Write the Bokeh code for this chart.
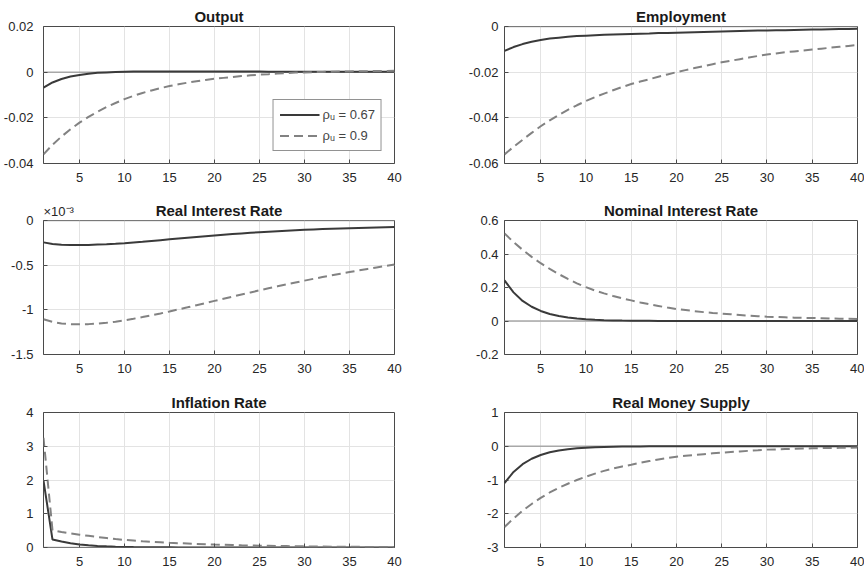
from bokeh.plotting import figure
from bokeh.models import FixedTicker, CustomJSTickFormatter, Span, Range1d, Title
from bokeh.layouts import gridplot
from bokeh.embed import file_html
from bokeh.resources import INLINE

periods = list(range(1, 41))
x_ticks = [5, 10, 15, 20, 25, 30, 35, 40]
legend_labels = ["\u03c1\u1d64 = 0.67", "\u03c1\u1d64 = 0.9"]

output_067 = [-0.0068, -0.0045, -0.0030, -0.0019, -0.0012, -0.0007, -0.0003, -0.0001, 0.0001, 0.0002,
              0.0003, 0.0003, 0.0003, 0.0003, 0.0003, 0.0003, 0.0003, 0.0003, 0.0003, 0.0003,
              0.0003, 0.0003, 0.0003, 0.0003, 0.0003, 0.0002, 0.0002, 0.0002, 0.0002, 0.0002,
              0.0002, 0.0002, 0.0002, 0.0002, 0.0002, 0.0002, 0.0002, 0.0002, 0.0002, 0.0002]
output_09 = [-0.0360, -0.0318, -0.0282, -0.0250, -0.0221, -0.0196, -0.0173, -0.0153, -0.0135, -0.0118,
             -0.0104, -0.0091, -0.0080, -0.0070, -0.0061, -0.0053, -0.0046, -0.0040, -0.0034, -0.0029,
             -0.0025, -0.0021, -0.0017, -0.0014, -0.0011, -0.0009, -0.0006, -0.0004, -0.0002, -0.0001,
             0.0000, 0.0001, 0.0002, 0.0003, 0.0003, 0.0004, 0.0004, 0.0005, 0.0005, 0.0006]

employment_067 = [-0.0107, -0.0090, -0.0077, -0.0067, -0.0059, -0.0053, -0.0049, -0.0045, -0.0042, -0.0040,
                  -0.0038, -0.0036, -0.0035, -0.0034, -0.0033, -0.0032, -0.0031, -0.0029, -0.0028, -0.0027,
                  -0.0026, -0.0025, -0.0024, -0.0023, -0.0022, -0.0021, -0.0020, -0.0019, -0.0018, -0.0017,
                  -0.0016, -0.0016, -0.0015, -0.0014, -0.0013, -0.0013, -0.0012, -0.0011, -0.0011, -0.0010]
employment_09 = [-0.0560, -0.0527, -0.0496, -0.0466, -0.0437, -0.0411, -0.0387, -0.0365, -0.0345, -0.0326,
                 -0.0309, -0.0294, -0.0279, -0.0265, -0.0252, -0.0241, -0.0231, -0.0220, -0.0210, -0.0200,
                 -0.0191, -0.0182, -0.0174, -0.0165, -0.0157, -0.0150, -0.0143, -0.0136, -0.0129, -0.0123,
                 -0.0118, -0.0113, -0.0109, -0.0105, -0.0101, -0.0097, -0.0093, -0.0089, -0.0085, -0.0081]

real_rate_067 = [-2.45e-4, -2.62e-4, -2.71e-4, -2.75e-4, -2.75e-4, -2.73e-4, -2.69e-4, -2.65e-4, -2.60e-4, -2.54e-4,
                 -2.46e-4, -2.38e-4, -2.29e-4, -2.20e-4, -2.11e-4, -2.02e-4, -1.93e-4, -1.84e-4, -1.76e-4, -1.68e-4,
                 -1.60e-4, -1.52e-4, -1.45e-4, -1.38e-4, -1.31e-4, -1.25e-4, -1.19e-4, -1.14e-4, -1.09e-4, -1.04e-4,
                 -1.00e-4, -0.96e-4, -0.92e-4, -0.89e-4, -0.86e-4, -0.83e-4, -0.80e-4, -0.78e-4, -0.76e-4, -0.74e-4]
real_rate_09 = [-1.105e-3, -1.135e-3, -1.152e-3, -1.160e-3, -1.162e-3, -1.160e-3, -1.154e-3, -1.145e-3, -1.133e-3, -1.118e-3,
                -1.100e-3, -1.081e-3, -1.061e-3, -1.040e-3, -1.018e-3, -0.995e-3, -0.972e-3, -0.948e-3, -0.924e-3, -0.900e-3,
                -0.876e-3, -0.852e-3, -0.828e-3, -0.805e-3, -0.782e-3, -0.759e-3, -0.737e-3, -0.715e-3, -0.694e-3, -0.673e-3,
                -0.653e-3, -0.633e-3, -0.614e-3, -0.595e-3, -0.577e-3, -0.559e-3, -0.542e-3, -0.525e-3, -0.509e-3, -0.493e-3]

nominal_067 = [0.242, 0.171, 0.120, 0.085, 0.060, 0.042, 0.030, 0.021, 0.015, 0.010,
               0.007, 0.005, 0.0035, 0.0025, 0.0018, 0.0012, 0.0009, 0.0006, 0.0004, 0.0003,
               0.0002, 0.0002, 0.0001, 0.0001, 0.0001, 0.0, 0.0, 0.0, 0.0, 0.0,
               0.0, 0.0, 0.0, 0.0, 0.0, 0.0, 0.0, 0.0, 0.0, 0.0]
nominal_09 = [0.523, 0.471, 0.425, 0.383, 0.345, 0.311, 0.280, 0.251, 0.225, 0.202,
              0.182, 0.165, 0.149, 0.135, 0.123, 0.111, 0.100, 0.090, 0.080, 0.071,
              0.065, 0.059, 0.053, 0.048, 0.044, 0.040, 0.036, 0.032, 0.029, 0.026,
              0.024, 0.022, 0.020, 0.019, 0.018, 0.017, 0.015, 0.014, 0.013, 0.012]

inflation_067 = [1.98, 0.235, 0.175, 0.125, 0.090, 0.065, 0.047, 0.034, 0.025, 0.018,
                 0.013, 0.009, 0.007, 0.005, 0.004, 0.003, 0.002, 0.0015, 0.001, 0.001,
                 0.0008, 0.0006, 0.0005, 0.0004, 0.0003, 0.0002, 0.0002, 0.0001, 0.0001, 0.0001,
                 0.0, 0.0, 0.0, 0.0, 0.0, 0.0, 0.0, 0.0, 0.0, 0.0]
inflation_09 = [3.25, 0.51, 0.46, 0.42, 0.38, 0.345, 0.31, 0.28, 0.25, 0.225,
                0.205, 0.185, 0.17, 0.155, 0.14, 0.128, 0.117, 0.106, 0.097, 0.088,
                0.080, 0.073, 0.066, 0.060, 0.055, 0.050, 0.045, 0.041, 0.037, 0.034,
                0.031, 0.028, 0.025, 0.023, 0.021, 0.019, 0.017, 0.015, 0.014, 0.012]

money_067 = [-1.09, -0.76, -0.53, -0.37, -0.26, -0.18, -0.125, -0.087, -0.060, -0.042,
             -0.029, -0.020, -0.014, -0.010, -0.007, -0.005, -0.0035, -0.0025, -0.0017, -0.0012,
             -0.0008, -0.0006, -0.0004, -0.0003, -0.0002, -0.0001, 0.0, 0.0, 0.0, 0.0,
             0.0, 0.0, 0.0, 0.0, 0.0, 0.0, 0.0, 0.0, 0.0, 0.0]
money_09 = [-2.39, -2.14, -1.91, -1.71, -1.53, -1.37, -1.23, -1.11, -1.00, -0.90,
            -0.81, -0.73, -0.66, -0.60, -0.55, -0.49, -0.44, -0.39, -0.35, -0.31,
            -0.285, -0.26, -0.235, -0.21, -0.19, -0.17, -0.152, -0.135, -0.118, -0.10,
            -0.093, -0.085, -0.077, -0.068, -0.06, -0.056, -0.052, -0.048, -0.044, -0.04]

titles = ["Output", "Employment", "Real Interest Rate", "Nominal Interest Rate", "Inflation Rate", "Real Money Supply"]
y_ticks = [[-0.04, -0.02, 0, 0.02], [-0.06, -0.04, -0.02, 0], [-1.5e-3, -1e-3, -0.5e-3, 0],
           [-0.2, 0, 0.2, 0.4, 0.6], [0, 1, 2, 3, 4], [-3, -2, -1, 0, 1]]
series_067 = [output_067, employment_067, real_rate_067, nominal_067, inflation_067, money_067]
series_09 = [output_09, employment_09, real_rate_09, nominal_09, inflation_09, money_09]
label_scale = [1, 1, 1000, 1, 1, 1]
scale_note_text = "\u00d710\u207b\u00b3"

FONT = "Liberation Sans"
FRAME = "#4a4a4a"

# (width, border_left, border_right, y label standoff) per column
col_geo = [(460, 41, 66, 10), (404, 44, 7, 6)]
# (height, border_top, border_bottom) per row
row_geo = [(190, 26, 27), (190, 30, 26), (189, 32, 22)]

figs = []
for i in range(6):
    r, c = divmod(i, 2)
    w, bl, br, ystand = col_geo[c]
    h, bt, bb = row_geo[r]
    yt = y_ticks[i]
    p = figure(width=w, height=h, output_backend="svg", toolbar_location=None,
               x_range=Range1d(1, 40), y_range=Range1d(yt[0], yt[-1]),
               min_border_left=bl, min_border_right=br, min_border_top=bt, min_border_bottom=bb)
    p.title.text = titles[i]
    p.title.align = "center"
    p.title.text_font = FONT
    p.title.text_font_size = "15px"
    p.title.text_font_style = "bold"
    p.title.text_color = "#1a1a1a"
    p.title.standoff = 4
    p.outline_line_color = FRAME
    p.outline_line_width = 1
    p.background_fill_color = "white"
    p.border_fill_color = "white"

    xa = p.below[0]
    ya = p.left[0]
    xa.ticker = FixedTicker(ticks=x_ticks)
    ya.ticker = FixedTicker(ticks=yt)
    ya.formatter = CustomJSTickFormatter(
        args=dict(s=label_scale[i]),
        code="const v = Math.round(tick * s * 1e6) / 1e6; return String(v);")
    for ax in (xa, ya):
        ax.axis_line_color = None
        ax.major_tick_in = 4
        ax.major_tick_out = 0
        ax.major_tick_line_color = FRAME
        ax.minor_tick_line_color = None
        ax.major_label_text_font = FONT
        ax.major_label_text_font_size = "13px"
        ax.major_label_text_color = "#262626"
    xa.major_label_standoff = 9
    ya.major_label_standoff = ystand
    p.xgrid.grid_line_color = "#e3e3e3"
    p.ygrid.grid_line_color = "#e3e3e3"
    p.xgrid.grid_line_width = 1
    p.ygrid.grid_line_width = 1

    zero = Span(location=0, dimension="width", line_color="#a8a8a8", line_width=1.5, level="underlay")
    p.add_layout(zero)

    if i == 0:
        p.line(periods, series_067[i], line_color="#3a3a3a", line_width=2, legend_label=legend_labels[0])
        p.line(periods, series_09[i], line_color="#828282", line_width=2, line_dash="9 5",
               legend_label=legend_labels[1])
        lg = p.legend[0]
        lg.location = "bottom_right"
        lg.margin = 12
        lg.border_line_color = "#262626"
        lg.border_line_width = 1
        lg.background_fill_alpha = 1
        lg.label_text_font = FONT
        lg.label_text_font_size = "13px"
        lg.glyph_width = 40
        lg.glyph_height = 17
        lg.label_height = 17
        lg.spacing = 4
        lg.padding = 6
        lg.label_standoff = 3
    else:
        p.line(periods, series_067[i], line_color="#3a3a3a", line_width=2)
        p.line(periods, series_09[i], line_color="#828282", line_width=2, line_dash="9 5")

    if i == 2:
        note = Title(text=scale_note_text, align="left", text_font=FONT, text_font_size="13px",
                     text_font_style="normal", text_color="#262626", standoff=3)
        p.add_layout(note, "above")
        p.title.standoff = -36
    figs.append(p)

grid = gridplot([[figs[0], figs[1]], [figs[2], figs[3]], [figs[4], figs[5]]], toolbar_location=None)

with open("out.html", "w") as f:
    f.write(file_html(grid, INLINE))
